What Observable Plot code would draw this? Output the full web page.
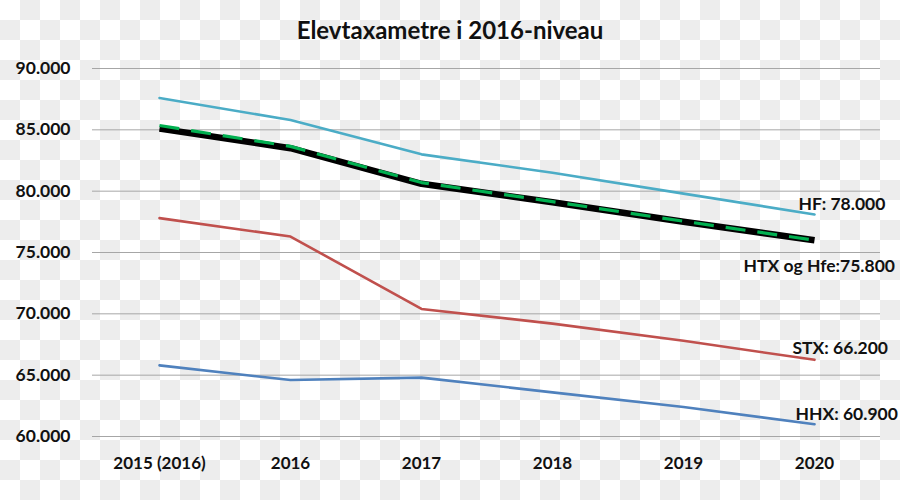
<!DOCTYPE html>
<html>
<head>
<meta charset="utf-8">
<script src="https://cdn.jsdelivr.net/npm/d3@7"></script>
<script src="https://cdn.jsdelivr.net/npm/@observablehq/plot@0.6"></script>
<style>
  html, body { margin: 0; padding: 0; width: 900px; height: 500px; overflow: hidden; }
  body {
    background-color: #ffffff;
    background-image: repeating-conic-gradient(#ededed 0 25%, #ffffff 0 50%);
    background-size: 40px 40px;
    font-family: Lato, "Open Sans", sans-serif;
  }
  #title { height: 40px; box-sizing: border-box; padding-top: 16px; line-height: 28px; text-align: center; font-weight: bold; font-size: 24px; color: #111; overflow: visible; }
  #chart svg { display: block; background: transparent; }
</style>
</head>
<body>
<div id="title">Elevtaxametre i 2016-niveau</div>
<div id="chart"></div>
<script>
const years = ["2015 (2016)", "2016", "2017", "2018", "2019", "2020"];
const yTicks = [60000, 65000, 70000, 75000, 80000, 85000, 90000];
const hf  = [87600, 85800, 83000, 81500, 79800, 78100];
const htx = [85100, 83500, 80600, 79100, 77500, 76000];
const hfe = [85350, 83650, 80700, 79150, 77550, 76000];
const stx = [77800, 76300, 70400, 69200, 67800, 66250];
const hhx = [65800, 64600, 64800, 63600, 62400, 61000];
const labelNames = ["HF: 78.000", "HTX og Hfe:75.800", "STX: 66.200", "HHX: 60.900"];

const toRows = (vals, s) => vals.map((v, i) => ({year: years[i], value: v, series: s}));
const rowsHF = toRows(hf, "HF");
const rowsHTX = toRows(htx, "HTX");
const rowsHFE = toRows(hfe, "Hfe");
const rowsSTX = toRows(stx, "STX");
const rowsHHX = toRows(hhx, "HHX");

const last = years.length - 1;
const lab = (name, val) => [{year: years[last], value: val, text: name}];

const chart = Plot.plot({
  width: 900,
  height: 460,
  marginTop: 28,
  marginBottom: 64,
  marginLeft: 92,
  marginRight: 20,
  style: {fontFamily: "Lato, 'Open Sans', sans-serif", fontSize: "17px", background: "transparent", color: "#111", fontWeight: "bold", overflow: "visible"},
  x: {type: "point", domain: years, padding: 0.5, label: null},
  y: {domain: [60000, 90000], label: null},
  marks: [
    Plot.gridY(yTicks, {stroke: "#a6a6a6", strokeOpacity: 1, strokeWidth: 1}),
    Plot.axisY(yTicks, {tickSize: 0, tickPadding: 22, tickFormat: d => (d / 1000).toFixed(3), fontSize: 17.5, fontWeight: "bold", label: null}),
    Plot.axisX({tickSize: 0, tickPadding: 20, fontSize: 17, fontWeight: "bold", label: null}),
    Plot.line(rowsHF, {x: "year", y: "value", stroke: "#4bacc6", strokeWidth: 2.6}),
    Plot.line(rowsSTX, {x: "year", y: "value", stroke: "#c0504d", strokeWidth: 2.6}),
    Plot.line(rowsHHX, {x: "year", y: "value", stroke: "#4f81bd", strokeWidth: 2.6}),
    Plot.line(rowsHTX, {x: "year", y: "value", stroke: "#000000", strokeWidth: 6.5, strokeLinecap: "butt"}),
    Plot.line(rowsHFE, {x: "year", y: "value", stroke: "#00b050", strokeWidth: 3.2, strokeDasharray: "20,12", strokeLinecap: "butt"}),
    Plot.text(lab(labelNames[0], hf[last]), {x: "year", y: "value", text: "text", textAnchor: "start", dx: -16, dy: -10, fontSize: 17.5, fontWeight: "bold", fill: "#111"}),
    Plot.text(lab(labelNames[1], htx[last]), {x: "year", y: "value", text: "text", textAnchor: "start", dx: -71, dy: 26, fontSize: 17.5, fontWeight: "bold", fill: "#111"}),
    Plot.text(lab(labelNames[2], stx[last]), {x: "year", y: "value", text: "text", textAnchor: "start", dx: -22, dy: -11, fontSize: 17.5, fontWeight: "bold", fill: "#111"}),
    Plot.text(lab(labelNames[3], hhx[last]), {x: "year", y: "value", text: "text", textAnchor: "start", dx: -19, dy: -10, fontSize: 17.5, fontWeight: "bold", fill: "#111"})
  ]
});
document.getElementById("chart").appendChild(chart);
</script>
</body>
</html>
